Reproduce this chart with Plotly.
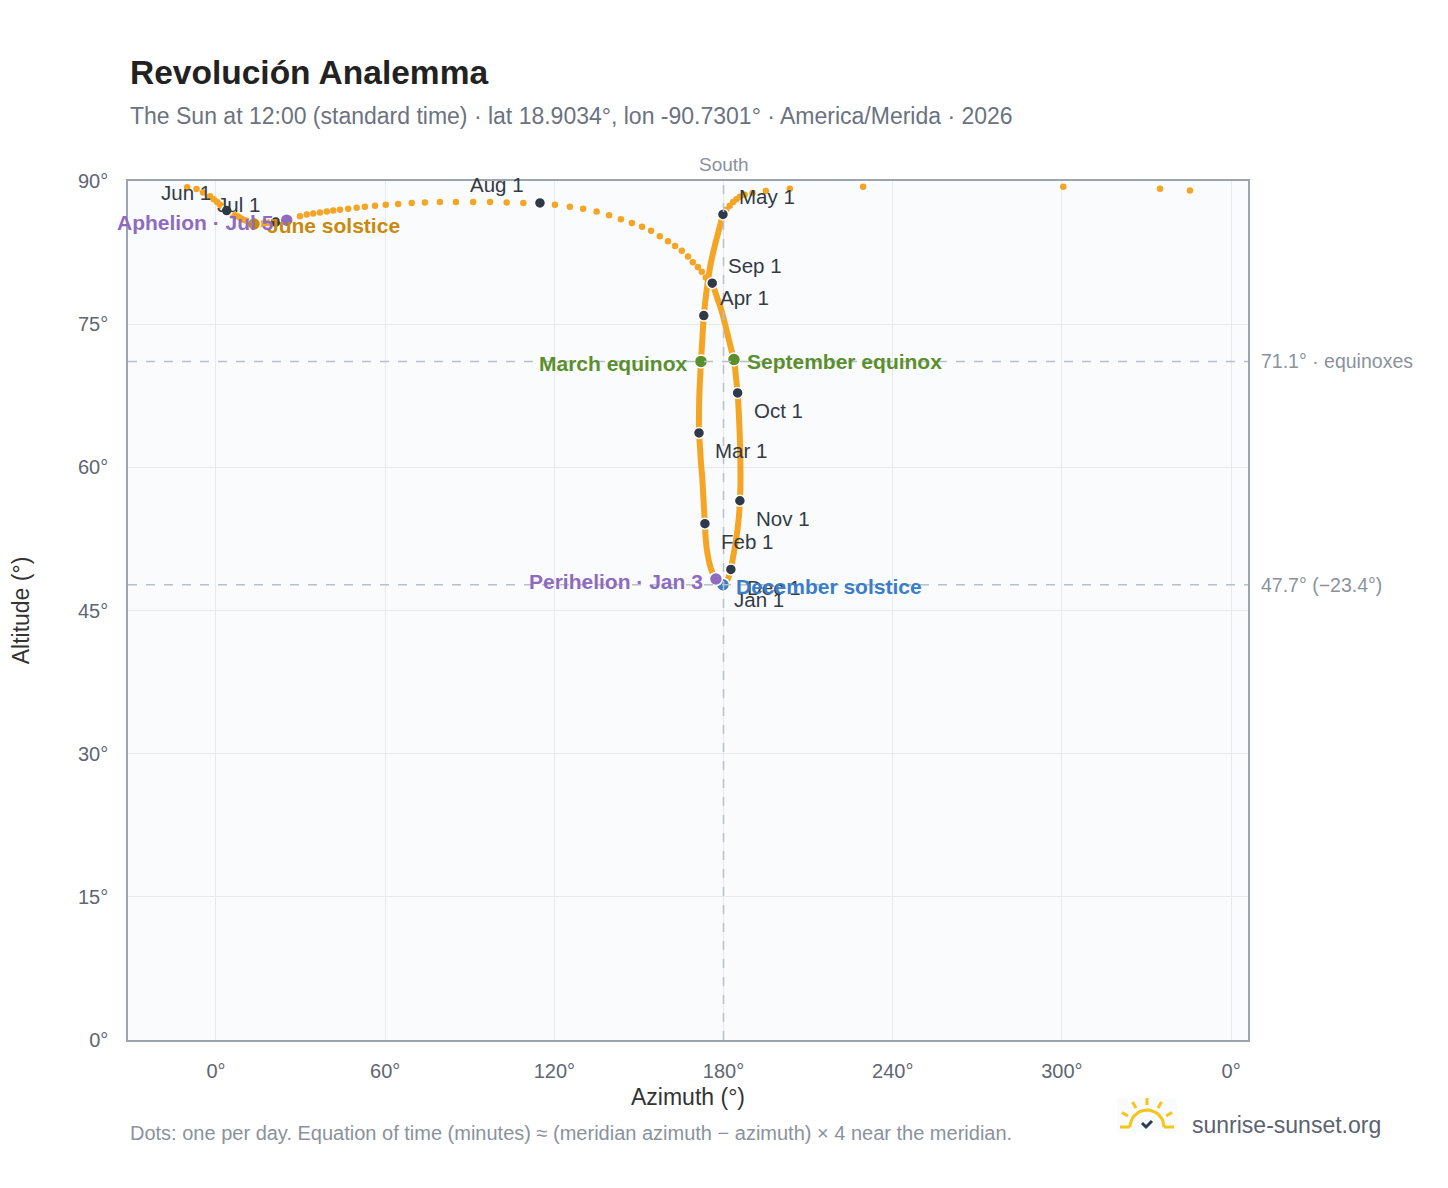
import math
import plotly.graph_objects as go

# --- data (azimuth °, altitude °) ---
# dense loop, Sep 1 -> May 1, about every 5 days
loop_az = [176.0, 177.6, 179.5, 181.2, 182.8, 183.7, 184.5, 185.0, 185.4, 185.7, 185.9, 186.0,
           186.0, 185.8, 185.5, 185.0, 184.4, 183.7, 183.1, 182.6, 181.9, 181.2, 180.5, 179.8,
           179.2, 178.0, 177.3, 176.2, 175.3, 174.6, 174.0, 173.6, 173.4, 173.1, 172.8, 172.5,
           172.0, 171.6, 171.3, 171.3, 171.4, 171.7, 172.0, 172.5, 173.0, 173.7, 174.5, 175.5,
           176.8, 178.3, 179.8]
loop_alt = [79.3, 77.9, 76.2, 74.2, 72.3, 71.3, 69.2, 67.8, 65.8, 63.8, 61.8, 59.9,
            58.1, 56.5, 55.0, 53.6, 52.3, 51.1, 50.1, 49.3, 48.6, 48.1, 47.8, 47.7,
            47.8, 48.0, 48.3, 48.9, 49.6, 50.5, 51.6, 52.8, 54.1, 55.5, 57.1, 58.7,
            60.5, 62.4, 63.6, 65.5, 67.4, 69.4, 71.1, 73.5, 75.9, 77.8, 79.6, 81.4,
            83.1, 84.8, 86.5]

# daily dots near the zenith, May 1 -> Sep 1 (azimuth unwrapped past north)
top_az = [179.8, 181.0, 182.2, 183.4, 184.6, 185.8, 187.5, 190.3, 195.0, 203.5, 229.5, 300.5,
          334.8, 345.4, -10.2, -6.9, -4.6, -2.1, -0.8, 0.4, 1.4, 2.1, 2.8, 3.3, 3.8,
          4.7, 5.6, 6.6, 7.6, 8.5, 9.4, 10.3, 11.1, 11.9, 12.7, 13.5, 14.2, 15.0, 15.8,
          16.6, 17.4, 18.2, 18.9, 19.6, 20.4, 21.2, 22.5, 23.8, 25.1,
          29.8, 32.2, 34.5, 36.9, 39.3, 41.6, 44.0, 46.9, 49.9, 52.8, 56.4, 60.2, 64.6,
          69.4, 74.1, 79.4, 85.1, 91.2, 97.2, 103.1, 109.0, 114.9,
          120.2, 125.5, 130.2, 135.0, 139.4, 143.6, 147.5, 151.1, 154.3, 157.4, 160.3,
          162.8, 165.2, 167.4, 169.1, 170.9, 172.3, 173.7, 174.8, 175.9]
top_alt = [86.5, 87.0, 87.4, 87.8, 88.1, 88.35, 88.55, 88.75, 88.95, 89.2, 89.4, 89.4,
           89.2, 89.0, 89.35, 89.15, 88.8, 88.4, 88.1, 87.8, 87.5, 87.35, 87.2, 87.05, 86.9,
           86.75, 86.6, 86.45, 86.3, 86.15, 86.0, 85.9, 85.8, 85.7, 85.6, 85.55, 85.5, 85.5, 85.5,
           85.55, 85.6, 85.6, 85.65, 85.65, 85.7, 85.7, 85.75, 85.8, 85.9,
           86.3, 86.5, 86.6, 86.7, 86.8, 86.9, 87.0, 87.1, 87.2, 87.3, 87.4, 87.5, 87.6,
           87.7, 87.75, 87.8, 87.8, 87.8, 87.8, 87.75, 87.7, 87.7,
           87.5, 87.3, 87.1, 86.8, 86.4, 86.0, 85.6, 85.2, 84.8, 84.2, 83.7,
           83.2, 82.7, 82.1, 81.5, 81.0, 80.5, 79.9, 79.6, 79.3]

# first-of-month markers
month_labels = ["Jan 1", "Feb 1", "Mar 1", "Apr 1", "May 1", "Jun 1", "Jul 1",
                "Aug 1", "Sep 1", "Oct 1", "Nov 1", "Dec 1"]
month_az = [178.0, 173.4, 171.3, 173.0, 179.8, 3.8, 21.2, 114.9, 176.0, 185.0, 185.8, 182.6]
month_alt = [48.0, 54.1, 63.6, 75.9, 86.5, 86.9, 85.7, 87.7, 79.3, 67.8, 56.5, 49.3]
month_side = ["dr", "dr", "dr", "ur", "ur", "ul", "ul", "ul", "ur", "dr", "dr", "dr"]

# special events
event_labels = ["March equinox", "September equinox", "June solstice", "December solstice",
                "Perihelion · Jan 3", "Aphelion · Jul 5"]
event_az = [172.0, 183.7, 13.5, 179.8, 177.3, 25.1]
event_alt = [71.1, 71.3, 85.5, 47.7, 48.3, 85.9]
event_colors = ["#5b8f2e", "#5b8f2e", "#c98a0c", "#3a7dc9", "#8e6bbf", "#8e6bbf"]
event_side = ["l", "r", "r", "r", "l", "l"]

equinox_alt = 71.1
solstice_alt = 47.7

ORANGE = "#f5a524"
DARK = "#2f3a48"
GREY = "#8a929c"
TICK = "#5f6672"
SUN = "#f5c518"
PW = 1120
PAPER_H = 1188 - 173 - 40          # paper height with b=40
MAIN_Y0 = (PAPER_H - 859) / PAPER_H  # main plot keeps an 859 px tall area

fig = go.Figure()

fig.add_trace(go.Scatter(x=loop_az, y=loop_alt, mode="lines",
                         line=dict(color=ORANGE, width=6, shape="spline"), hoverinfo="skip"))
fig.add_trace(go.Scatter(x=top_az, y=top_alt, mode="markers",
                         marker=dict(color=ORANGE, size=6.5), hoverinfo="skip"))
fig.add_trace(go.Scatter(x=month_az, y=month_alt, mode="markers",
                         marker=dict(color=DARK, size=11, line=dict(color="white", width=1.5)),
                         text=month_labels, hoverinfo="text"))
fig.add_trace(go.Scatter(x=event_az, y=event_alt, mode="markers",
                         marker=dict(color=event_colors, size=13, line=dict(color="white", width=1.5)),
                         text=event_labels, hoverinfo="text"))

# sun logo on its own small pixel-scaled axes
arc_x = [17 * math.cos(math.radians(a)) for a in range(0, 181, 10)]
arc_y = [17 * math.sin(math.radians(a)) for a in range(0, 181, 10)]
ray_x, ray_y = [-27, -17, None, 17, 27, None], [0, 0, None, 0, 0, None]
for ang in (30, 60, 90, 120, 150):
    c_, s_ = math.cos(math.radians(ang)), math.sin(math.radians(ang))
    ray_x += [22 * c_, 29 * c_, None]
    ray_y += [22 * s_, 29 * s_, None]
for xs, ys, col in [(arc_x, arc_y, SUN), (ray_x, ray_y, SUN), ([-5, -1, 5], [4, 0, 6], "#2b3a55")]:
    fig.add_trace(go.Scatter(x=xs, y=ys, mode="lines", xaxis="x2", yaxis="y2",
                             line=dict(color=col, width=3), hoverinfo="skip"))

for lab, x, y, s in zip(month_labels, month_az, month_alt, month_side):
    fig.add_annotation(x=x, y=y, text=lab, showarrow=False,
                       xanchor="left" if s[1] == "r" else "right",
                       xshift=14 if s[1] == "r" else -14,
                       yshift=18 if s[0] == "u" else -18,
                       font=dict(size=20.5, color="#333a44"))

for lab, x, y, c, s in zip(event_labels, event_az, event_alt, event_colors, event_side):
    fig.add_annotation(x=x, y=y, text=f"<b>{lab}</b>", showarrow=False,
                       xanchor="left" if s == "r" else "right",
                       xshift=11 if s == "r" else -11, yshift=-2,
                       font=dict(size=21, color=c))

# reference lines
for yv, txt in [(equinox_alt, "71.1° · equinoxes"), (solstice_alt, "47.7° (−23.4°)")]:
    fig.add_hline(y=yv, line=dict(color="#b8c0ca", width=1.5, dash="dash"))
    fig.add_annotation(xref="paper", x=1.01, y=yv, text=txt, showarrow=False,
                       xanchor="left", font=dict(size=19.5, color=GREY))
fig.add_vline(x=180, line=dict(color="#b8c0ca", width=1.5, dash="dash"))
fig.add_annotation(x=180, yref="paper", y=1.0, text="South", showarrow=False,
                   yanchor="bottom", yshift=4, font=dict(size=19, color=GREY))

# title, subtitle, footer
fig.add_annotation(xref="paper", yref="paper", x=0, y=1.0, xanchor="left", yanchor="bottom",
                   yshift=88, showarrow=False, text="<b>Revolución Analemma</b>",
                   font=dict(size=33.5, color="#222"))
fig.add_annotation(xref="paper", yref="paper", x=0, y=1.0, xanchor="left", yanchor="bottom",
                   yshift=50, showarrow=False,
                   text="The Sun at 12:00 (standard time) · lat 18.9034°, lon -90.7301° · America/Merida · 2026",
                   font=dict(size=23, color="#6b7280"))
fig.add_annotation(xref="paper", yref="y domain", x=0, y=0, xanchor="left", yanchor="middle",
                   yshift=-93, showarrow=False,
                   text="Dots: one per day. Equation of time (minutes) ≈ (meridian azimuth − azimuth) × 4 near the meridian.",
                   font=dict(size=20, color=GREY))
fig.add_annotation(xref="paper", yref="y domain", x=(1190 - 128) / PW, y=0, xanchor="left",
                   yanchor="middle", yshift=-85, showarrow=False, text="sunrise-sunset.org",
                   font=dict(size=23, color="#5b6270"))

fig.update_layout(
    width=1448, height=1188,
    margin=dict(l=120, r=208, t=173, b=40),
    paper_bgcolor="white", plot_bgcolor="#f9fbfd",
    showlegend=False,
    font=dict(family="Liberation Sans, Arial, sans-serif"),
    xaxis=dict(range=[-31.2, 366], tickvals=[0, 60, 120, 180, 240, 300, 360],
               ticktext=["0°", "60°", "120°", "180°", "240°", "300°", "0°"],
               showgrid=True, gridcolor="#e6eaef", zeroline=False, automargin=False,
               showline=True, linecolor="#9aa5b1", linewidth=1.5, mirror=True,
               ticks="", ticklabelstandoff=12,
               tickfont=dict(size=20, color=TICK),
               title=dict(text="Azimuth (°)", font=dict(size=23, color="#333"), standoff=8)),
    yaxis=dict(range=[0, 90], tickvals=[0, 15, 30, 45, 60, 75, 90], domain=[MAIN_Y0, 1],
               ticktext=["0°", "15°", "30°", "45°", "60°", "75°", "90°"],
               showgrid=True, gridcolor="#e6eaef", zeroline=False, automargin=False,
               showline=True, linecolor="#9aa5b1", linewidth=1.5, mirror=True,
               ticks="", ticklabelstandoff=14,
               tickfont=dict(size=20, color=TICK),
               title=dict(text="Altitude (°)", font=dict(size=23, color="#333"), standoff=45)),
    # logo axes: 60 x 34 px box, centre of sun base at px (1147, 1127)
    xaxis2=dict(domain=[(1117 - 128) / PW, (1177 - 128) / PW], range=[-30, 30],
                visible=False, fixedrange=True),
    yaxis2=dict(domain=[(1156 - 1132) / PAPER_H, (1156 - 1098) / PAPER_H], range=[-5, 29],
                visible=False, fixedrange=True, anchor="x2"),
)
fig.update_layout(xaxis2_anchor="y2")

fig.write_html("out.html")
